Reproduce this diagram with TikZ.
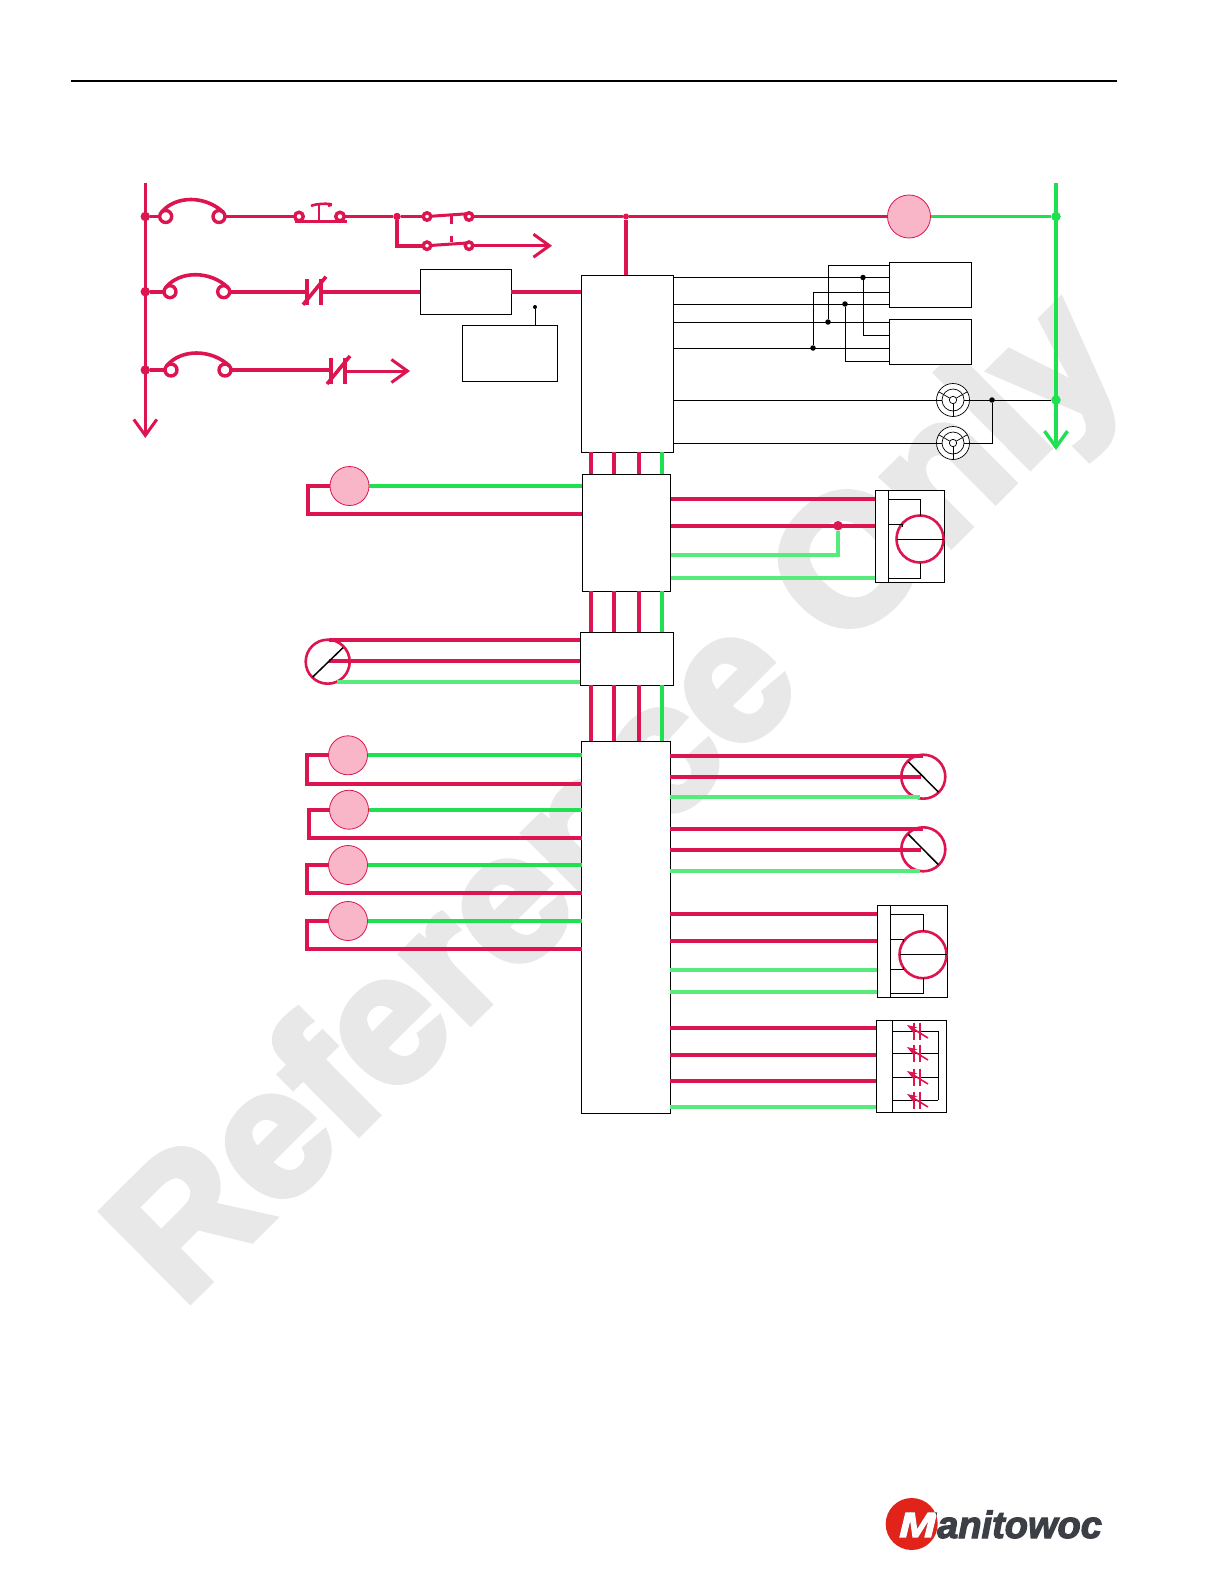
\documentclass[tikz,border=0pt]{standalone}
\usepackage{fontspec}
\setmainfont{Liberation Sans}
\newfontfamily\markfont{Liberation Sans}[UprightFont=* Bold, FakeBold=4]
\newfontfamily\logofont{Liberation Sans}[UprightFont=* Bold Italic, FakeBold=3]
\usetikzlibrary{arrows.meta, calc}
\definecolor{wirered}{HTML}{DC1450}
\definecolor{wiregreen}{HTML}{1FE050}
\definecolor{wirepale}{HTML}{58EA7C}
\definecolor{coilpink}{HTML}{F8B6C8}
\definecolor{logored}{HTML}{E2231A}
\definecolor{logogray}{HTML}{3C4046}
\tikzset{
    redwire/.style={draw=wirered, line width=3.9pt},
    greenwire/.style={draw=wiregreen, line width=3.9pt},
    palewire/.style={draw=wirepale, line width=3.9pt},
    blackwire/.style={draw=black, line width=.9pt},
    thinblack/.style={draw=black, line width=1pt},
    box/.style={draw=black, fill=white, line width=1pt, rectangle, inner sep=0, outer sep=0},
    coil/.style={circle, draw=wirered, fill=coilpink, line width=.8pt, minimum size=39pt, inner sep=0, outer sep=0},
    ring/.style={circle, draw=wirered, line width=2.6pt, minimum size=#1, inner sep=0, outer sep=0},
    term/.style={circle, draw=wirered, fill=white, line width=3.4pt, minimum size=#1, inner sep=0, outer sep=0},
    bar/.style={rectangle, fill=wirered, minimum width=3.8pt, minimum height=26pt, inner sep=0, outer sep=0},
    reddot/.style={circle, fill=wirered, minimum size=9.5pt, inner sep=0},
    greendot/.style={circle, fill=wiregreen, minimum size=9.5pt, inner sep=0},
    blackdot/.style={circle, fill=black, minimum size=5.5pt, inner sep=0},
    lamp/.style={circle, draw=black, fill=white, line width=.7pt, minimum size=33pt, inner sep=0, outer sep=0},
    >={Straight Barb[length=16pt, width=23pt]},
}
\begin{document}
\begin{tikzpicture}[x=1pt, y=-1pt]
    \useasboundingbox (0,0) rectangle (1224,1584);
    \node[text=black!9, rotate=44.8, anchor=base, font=\markfont\fontsize{182}{182}\selectfont] (mark) at (655.5,838.5) {Reference Only};
    \coordinate (ruleL) at (71,81);
    \coordinate (ruleR) at (1117,81);
    \draw[line width=1.5pt] (ruleL) -- (ruleR);

    % boxes
    \node[box, minimum width=92.5, minimum height=177] (ctrlA) at (627.25,363.5) {};
    \node[box, minimum width=88.6, minimum height=117] (ctrlB) at (626.3,532.5) {};
    \node[box, minimum width=93.7, minimum height=53]  (ctrlC) at (626.85,658.5) {};
    \node[box, minimum width=88.3, minimum height=372] (ctrlD) at (625.85,927) {};
    \node[box, minimum width=91, minimum height=45]    (boxE)  at (465.5,291.7) {};
    \node[box, minimum width=95, minimum height=56]    (boxF)  at (509.5,353) {};
    \node[box, minimum width=82, minimum height=45]    (relA)  at (930,284.5) {};
    \node[box, minimum width=82, minimum height=45]    (relB)  at (930,341.5) {};
    \node[box, minimum width=69, minimum height=91.3]  (drvA)  at (909.5,536.35) {};
    \node[box, minimum width=13.7, minimum height=91.3](drvAs) at (881.85,536.35) {};
    \node[box, minimum width=70, minimum height=92]    (drvB)  at (912,951) {};
    \node[box, minimum width=13, minimum height=92]    (drvBs) at (883.5,951) {};
    \node[box, minimum width=70.7, minimum height=92]  (bank)  at (911.35,1066) {};
    \node[box, minimum width=16, minimum height=92]    (bankS) at (884,1066) {};

    % coils
    \node[coil, minimum size=43pt] (coilK) at (909,216.5) {};
    \node[coil] (coil1) at (349.5,486) {};
    \node[coil] (coil2) at (348,755.3) {};
    \node[coil] (coil3) at (349,809.7) {};
    \node[coil] (coil4) at (348,865) {};
    \node[coil] (coil5) at (348,921) {};
    \coordinate (hook1) at (308,514);
    \coordinate (hook2) at (307,783.7);
    \coordinate (hook3) at (309,838);
    \coordinate (hook4) at (307,893);
    \coordinate (hook5) at (307,949);

    % left bus, right bus
    \coordinate (busLt) at (145.3,183);
    \coordinate (busLb) at (145.3,438);
    \coordinate (busRt) at (1056,183);
    \coordinate (busRb) at (1056,450);
    \draw[redwire, ->, line width=3pt] (busLt) -- (busLb);
    \draw[greenwire, ->, line width=3.4pt] (busRt) -- (busRb);
    \node[reddot] (row1) at (145.3,216.5) {};
    \node[reddot] (row2) at (145.3,291.7) {};
    \node[reddot] (row3) at (145.3,370) {};
    \node[greendot] (rowK) at (1056,216.5) {};
    \node[greendot] (rowL) at (1056,400) {};

    % breakers
    \node[term=12pt] (brkL1) at (165.7,216.5) {};
    \node[term=12pt] (brkR1) at (219,216.5) {};
    \node[term=12pt] (brkL2) at (170,291.7) {};
    \node[term=12pt] (brkR2) at (223.7,291.7) {};
    \node[term=12pt] (brkL3) at (171,370) {};
    \node[term=12pt] (brkR3) at (225,370) {};
    \foreach \n in {1,2,3} {
        \draw[redwire, line width=3.6pt] (brkL\n.north west) .. controls +(14,-17) and +(-18,-17) .. (brkR\n.north east);
        \path (row\n) edge [redwire] (brkL\n);
    }

    % push button
    \node[term=8.5pt] (pushL) at (299,216.5) {};
    \node[term=8.5pt] (pushR) at (340,216.5) {};
    \coordinate (pushA) at (295,221.5);
    \coordinate (pushC) at (347,221.5);
    \coordinate (pushB) at (319,221.5);
    \coordinate (pushT) at (319,204);
    \draw[redwire, line width=3.2pt] (pushA) -- (pushC);
    \draw[redwire, line width=2.6pt] (pushB) -- (pushT);
    \draw[redwire, line width=2.6pt] ($(pushT)+(-8,2)$) .. controls +(5,-3) and +(11,-3) .. ($(pushT)+(9,2)$);

    % contacts
    \node[reddot, minimum size=7.5pt] (split) at (397,216.5) {};
    \coordinate (splitB) at (397,245.7);
    \node[term=7.5pt] (contAl) at (427,216.5) {};
    \node[term=7.5pt] (contAr) at (469,216.5) {};
    \node[term=7.5pt] (contBl) at (427,245.7) {};
    \node[term=7.5pt] (contBr) at (469,245.7) {};
    \coordinate (contAd) at (451,215);
    \coordinate (contAe) at (451,224);
    \coordinate (contBd) at (451,236);
    \coordinate (contBe) at (451,242);
    \coordinate (arrowA) at (552,245.7);
    \node[reddot, minimum size=6pt] (tee) at (626,216.5) {};
    \path
        (contAl) edge [redwire, line width=3pt] (contAr.north west)
        (contBl) edge [redwire, line width=3pt] (contBr.north west)
        (contAd) edge [redwire, line width=3pt] (contAe)
        (contBd) edge [redwire, line width=3pt] (contBe)
        (brkR1) edge [redwire] (pushL)
        (pushR) edge [redwire] (split)
        (split) edge [redwire] (contAl)
        (contAr) edge [redwire] (tee)
        (tee) edge [redwire] (coilK)
        (tee) edge [redwire] (tee |- ctrlA.north)
        (coilK) edge [greenwire] (rowK);
    \draw[redwire] (split) -- (splitB) -- (contBl);
    \draw[redwire, ->, line width=3pt] (contBr) -- (arrowA);

    % n.c. contacts
    \node[bar] (ncL1) at (307,291.7) {};
    \node[bar] (ncR1) at (321,291.7) {};
    \node[bar] (ncL2) at (331,371) {};
    \node[bar] (ncR2) at (345,371) {};
    \coordinate (arrowB) at (410,371);
    \foreach \n in {1,2}
        \draw[redwire, line width=3.6pt] ($(ncL\n.south)+(-4,0)$) -- ($(ncR\n.north)+(5,-2)$);
    \path
        (brkR2) edge [redwire] (ncL1)
        (ncR1) edge [redwire] (ncR1 -| boxE.west)
        (boxE) edge [redwire] (boxE -| ctrlA.west)
        (brkR3) edge [redwire] (brkR3 -| ncL2);
    \draw[redwire, ->, line width=3pt] (ncR2) -- (arrowB);
    \node[blackdot, minimum size=4pt] (tap) at (535,307) {};
    \draw[blackwire] (tap) -- (tap |- boxF.north);

    % relay wiring
    \foreach \n/\y in {a/277.5, b/304, c/322, d/348, e/265, f/292, g/335, h/361, l/400, m/443} {
        \coordinate (lev\n) at (0,\y);
    }
    \node[blackdot] (dotA) at (863,277.5) {};
    \node[blackdot] (dotB) at (845,304) {};
    \node[blackdot] (dotC) at (828,322) {};
    \node[blackdot] (dotD) at (813,348) {};
    \foreach \n/\r in {a/relA, b/relA, c/relB, d/relB} {
        \draw[blackwire] (ctrlA.east |- lev\n) -- (\r.west |- lev\n);
    }
    \draw[blackwire] (dotC) |- (relA.west |- leve);
    \draw[blackwire] (dotD) |- (relA.west |- levf);
    \draw[blackwire] (dotA) |- (relB.west |- levg);
    \draw[blackwire] (dotB) |- (relB.west |- levh);

    % lamps
    \node[lamp] (lampA) at (953,400) {};
    \node[lamp] (lampB) at (953,443) {};
    \node[blackdot] (dotL) at (992,400) {};
    \path
        (ctrlA.east |- levl) edge [blackwire] (lampA)
        (ctrlA.east |- levm) edge [blackwire] (lampB)
        (lampA) edge [blackwire] (rowL);
    \draw[blackwire] (dotL) |- (lampB);
    \foreach \l in {lampA,lampB} {
        \begin{scope}[shift=(\l), line width=.7pt]
            \draw (0,0) circle (11pt);
            \draw (0,0) circle (3.7pt);
            \foreach \a in {-30,90,210}
                \draw (\a:3.7) -- (\a:16.5);
            \draw (-16.5,0) -- (-11,0);
            \draw (16.5,0) -- (11,0);
        \end{scope}
    }

    % vertical bus between controllers
    \coordinate (bus1) at (591,0);
    \coordinate (bus2) at (613.7,0);
    \coordinate (bus3) at (639,0);
    \coordinate (bus4) at (662,0);
    \foreach \u/\v in {ctrlA/ctrlB, ctrlB/ctrlC, ctrlC/ctrlD} {
        \foreach \n in {1,2,3}
            \draw[redwire] (bus\n |- \u.south) -- (bus\n |- \v.north);
        \draw[greenwire] (bus4 |- \u.south) -- (bus4 |- \v.north);
    }

    % coil returns
    \draw[greenwire] (coil1) -- (coil1 -| ctrlB.west);
    \draw[redwire] (coil1.west) -| (hook1) -- (hook1 -| ctrlB.west);
    \foreach \n in {2,3,4,5} {
        \draw[greenwire] (coil\n) -- (coil\n -| ctrlD.west);
        \draw[redwire] (coil\n.west) -| (hook\n) -- (hook\n -| ctrlD.west);
    }

    % drive A
    \foreach \n/\y in {p/499, q/525.7, r/555, s/577.7} {
        \coordinate (lev\n) at (0,\y);
    }
    \node[ring=47pt] (rotA) at (920,539) {};
    \node[reddot] (dotQ) at (838,525.7) {};
    \coordinate (bendR) at (838,555);
    \draw[palewire] (ctrlB.east |- levr) -- (bendR) -- (dotQ);
    \draw[redwire] (ctrlB.east |- levp) -- (drvA.west |- levp);
    \draw[redwire] (ctrlB.east |- levq) -- (drvA.west |- levq);
    \draw[palewire] (ctrlB.east |- levs) -- (drvA.west |- levs);
    \draw[blackwire] (drvAs.east |- levp) -| (rotA.north);
    \draw[blackwire] (drvAs.east |- 0,524) -| (902.7,527);
    \draw[blackwire] (drvAs.east |- 0,578) -| (rotA.south);
    \draw[blackwire] (rotA.west) -- (drvA.east |- rotA);

    % sensors
    \node[ring=44pt] (sensA) at (327.7,661.7) {};
    \node[ring=44pt] (sensB) at (923.3,776.7) {};
    \node[ring=44pt] (sensC) at (923.3,849.3) {};
    \coordinate (sensAe) at (329,640);
    \coordinate (sensAf) at (329,661);
    \coordinate (sensAg) at (337,681.7);
    \draw[redwire] (sensAe) -- (sensAe -| ctrlC.west);
    \draw[redwire] (sensAf) -- (sensAf -| ctrlC.west);
    \draw[palewire] (sensAg) -- (sensAg -| ctrlC.west);
    \draw[thinblack, line width=1.5pt] ($(sensA)+(-15,15.3)$) -- ($(sensA)+(15.3,-14)$);
    \foreach \s/\a/\b/\c in {sensB/756/776.7/797, sensC/829/850/871} {
        \coordinate (\s e) at (0,\a);
        \coordinate (\s f) at (0,\b);
        \coordinate (\s g) at (0,\c);
        \draw[redwire] (ctrlD.east |- \s e) -- (\s.center |- \s e);
        \draw[redwire] (ctrlD.east |- \s f) -- ($(\s.center |- \s f)+(-2,0)$);
        \draw[palewire] (ctrlD.east |- \s g) -- ($(\s.center |- \s g)+(-3,0)$);
        \draw[thinblack, line width=1.5pt] ($(\s)+(-15,-15)$) -- ($(\s)+(15,15.3)$);
    }

    % drive B
    \foreach \n/\y in {t/914, u/940.7, v/970, w/992} {
        \coordinate (lev\n) at (0,\y);
    }
    \node[ring=47pt] (rotB) at (923,954.7) {};
    \draw[redwire] (ctrlD.east |- levt) -- (drvB.west |- levt);
    \draw[redwire] (ctrlD.east |- levu) -- (drvB.west |- levu);
    \draw[palewire] (ctrlD.east |- levv) -- (drvB.west |- levv);
    \draw[palewire] (ctrlD.east |- levw) -- (drvB.west |- levw);
    \draw[blackwire] (drvBs.east |- levt) -| (rotB.north);
    \draw[blackwire] (drvBs.east |- 0,939.3) -| (903,942);
    \draw[blackwire] (drvBs.east |- 0,969) -| (903,967);
    \draw[blackwire] (drvBs.east |- 0,993) -| (rotB.south);
    \draw[blackwire] (rotB.west) -- (drvB.east |- rotB);

    % resistor bank
    \foreach \n/\y in {1/1028, 2/1055, 3/1081, 4/1107} {
        \coordinate (bnk\n) at (0,\y);
    }
    \draw[redwire] (ctrlD.east |- bnk1) -- (bankS.west |- bnk1);
    \draw[redwire] (ctrlD.east |- bnk2) -- (bankS.west |- bnk2);
    \draw[redwire] (ctrlD.east |- bnk3) -- (bankS.west |- bnk3);
    \draw[palewire] (ctrlD.east |- bnk4) -- (bankS.west |- bnk4);
    \coordinate (rail) at (938,0);
    \foreach \n/\y in {1/1031, 2/1053, 3/1077, 4/1100} {
        \coordinate (res\n) at (917,\y);
        \draw[blackwire] (bankS.east |- res\n) -- (rail |- res\n);
        \draw[wirered, line width=1.1pt] ($(res\n)+(-3,-8.5)$) -- ($(res\n)+(-3,8.5)$);
        \draw[wirered, line width=1.1pt] ($(res\n)+(3,-8.5)$) -- ($(res\n)+(3,8.5)$);
        \draw[wirered, line width=1.6pt, {Stealth[length=10pt, width=7pt]}-] ($(res\n)+(-10,-6)$) -- ($(res\n)+(11,7)$);
    }
    \draw[blackwire] (rail |- res1) -- (rail |- res4);

    % logo
    \node[circle, fill=logored, minimum size=52pt, inner sep=0] (logoC) at (911.7,1524) {};
    \node[text=logogray, anchor=base west, xscale=1.25, inner sep=0, font=\logofont\fontsize{35}{35}\selectfont] (logoD) at (899,1537) {M};
    \begin{scope}
        \clip (911.7,1524) circle (26pt);
        \node[text=white, anchor=base west, xscale=1.25, inner sep=0, font=\logofont\fontsize{35}{35}\selectfont] (logoM) at (899,1537) {M};
    \end{scope}
    \node[text=logogray, anchor=base west, inner sep=0, font=\logofont\fontsize{38}{38}\selectfont] (logoT) at (937,1538) {anitowoc};
\end{tikzpicture}
\end{document}
